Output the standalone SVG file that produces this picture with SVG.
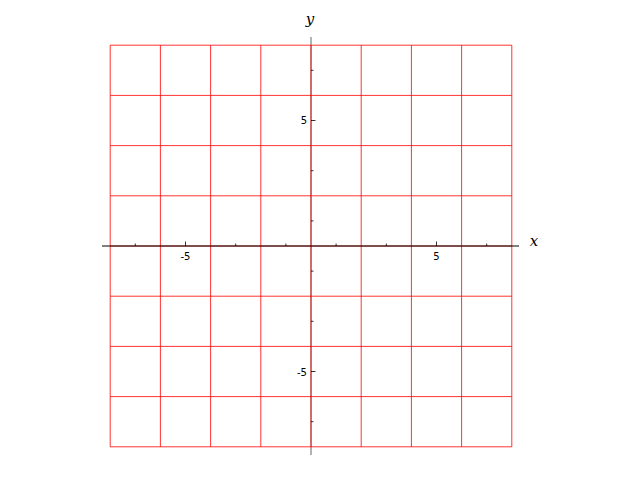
<svg xmlns="http://www.w3.org/2000/svg" width="640" height="480" viewBox="0 0 640 480">
<style>
.ax{stroke:#000;stroke-width:1;fill:none}
.tk{stroke:#000;stroke-width:0.8}
.gr{stroke:#ff0000;stroke-width:1;stroke-opacity:0.8;fill:none}
.tl{font-family:"DejaVu Sans",sans-serif;font-size:10px;fill:#000}
.al{font-family:"DejaVu Serif","Liberation Serif",serif;font-style:italic;font-size:15px;fill:#000}
</style>
<rect width="640" height="480" fill="#fff"/>
<g id="y-axis">
<line class="ax" x1="311" y1="37" x2="311" y2="455" stroke-opacity="0.6"/>
</g>
<g id="grid">
<path class="gr" d="M110.2,45.2V446.8M160.4,45.2V446.8M210.6,45.2V446.8M260.8,45.2V446.8M311,45.2V446.8M361.2,45.2V446.8M411.4,45.2V446.8M461.6,45.2V446.8M511.8,45.2V446.8"/>
<path class="gr" d="M110.2,45.2H511.8M110.2,95.4H511.8M110.2,145.6H511.8M110.2,195.8H511.8M110.2,246H511.8M110.2,296.2H511.8M110.2,346.4H511.8M110.2,396.6H511.8M110.2,446.8H511.8"/>
</g>
<g id="axes">
<line class="ax" x1="102" y1="246" x2="519" y2="246"/>
<g id="ticks">
<path class="tk" d="M135.3,246v-2.5M185.5,246v-4.5M235.7,246v-2.5M285.9,246v-2.5M336.1,246v-2.5M386.3,246v-2.5M436.5,246v-4.5M486.7,246v-2.5"/>
<path class="tk" d="M311,70.3h2.5M311,120.5h4.5M311,170.7h2.5M311,220.9h2.5M311,271.1h2.5M311,321.3h2.5M311,371.5h4.5M311,421.7h2.5"/>
</g>
<text class="tl" x="185.5" y="260" text-anchor="middle">-5</text>
<text class="tl" x="436.5" y="260" text-anchor="middle">5</text>
<text class="tl" x="307" y="124" text-anchor="end">5</text>
<text class="tl" x="307" y="375.5" text-anchor="end">-5</text>
<text class="al" x="534" y="246" text-anchor="middle">x</text>
<text class="al" x="310" y="24" text-anchor="middle">y</text>
</g>
</svg>
